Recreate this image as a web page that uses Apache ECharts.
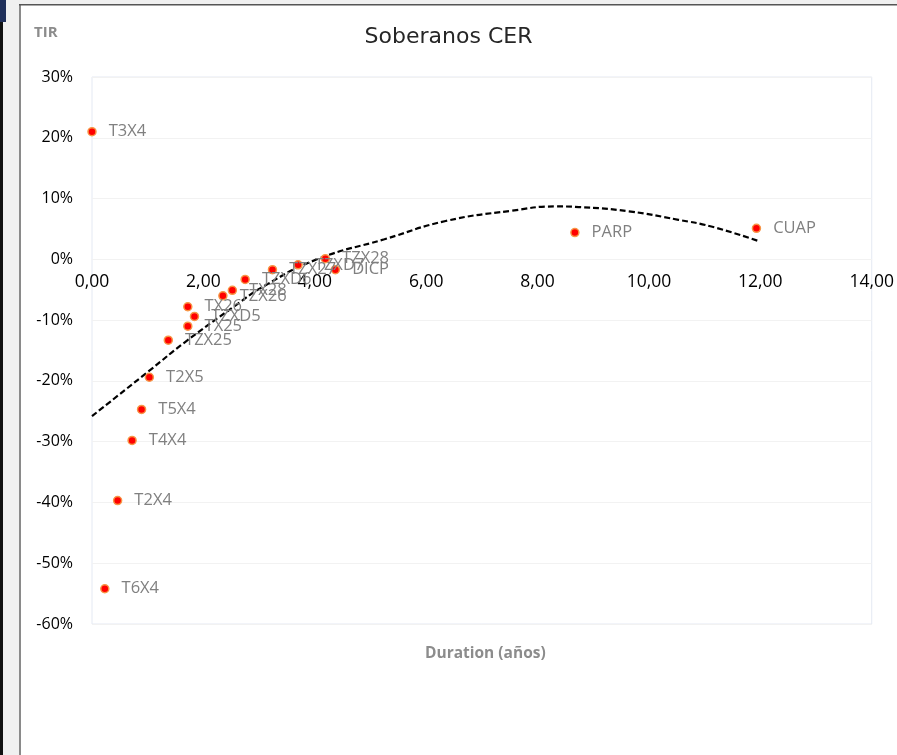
<!DOCTYPE html>
<html>
<head>
<meta charset="utf-8">
<script src="https://cdn.jsdelivr.net/npm/echarts@6/dist/echarts.min.js"></script>
<style>
  html, body { margin: 0; padding: 0; background: #ffffff; }
  #chart { width: 897px; height: 755px; }
</style>
</head>
<body>
<div id="chart"></div>
<script>
// Bond tickers
const names = ['T3X4', 'T6X4', 'T2X4', 'T4X4', 'T5X4', 'T2X5', 'TZX25', 'TX25', 'TZXD5', 'TX26',
               'TZX26', 'TX28', 'TZXD6', 'TZX27', 'TZXD7', 'TZX28', 'DICP', 'PARP', 'CUAP'];
// Duration (years)
const duration = [0.00, 0.23, 0.46, 0.72, 0.89, 1.03, 1.37, 1.72, 1.84, 1.72,
                  2.35, 2.52, 2.75, 3.24, 3.70, 4.19, 4.37, 8.67, 11.93];
// TIR (%)
const tir = [21.0, -54.2, -39.7, -29.8, -24.7, -19.4, -13.3, -11.0, -9.4, -7.8,
             -6.0, -5.1, -3.3, -1.7, -0.9, 0.1, -1.7, 4.4, 5.1];
// Trend line
const trendX = [0.00, 1.06, 1.66, 2.56, 3.09, 4.04, 5.25, 6.35, 7.54, 8.32, 8.74, 9.64, 10.53, 11.12, 11.97];
const trendY = [-25.8, -18.1, -13.7, -7.7, -4.4, 0.0, 3.3, 6.3, 8.0, 8.7, 8.6, 7.9, 6.5, 5.4, 3.0];
// Axis ticks
const xTicks = { min: 0, max: 14, interval: 2 };
const yTicks = { min: -60, max: 30, interval: 10 };

const W = 897, H = 755;
const gridBox = { left: 92, right: 24, top: 77, bottom: 131 };
const gridH = H - gridBox.top - gridBox.bottom;
// place the x axis on the 0% line
const xAxisOffset = -gridH * (0 - yTicks.min) / (yTicks.max - yTicks.min);

const chart = echarts.init(document.getElementById('chart'));
const font = '"Open Sans", "Noto Sans", sans-serif';

const option = {
  backgroundColor: '#ffffff',
  animation: false,
  title: [
    { text: 'Soberanos CER', left: 'center', top: 21,
      textStyle: { fontFamily: '"DejaVu Sans", sans-serif', fontSize: 22, fontWeight: 'normal', color: '#262626' } },
    { text: 'TIR', left: 29, top: 20,
      textStyle: { fontFamily: font, fontSize: 15, fontWeight: 'bold', color: '#8c8c8c' } },
    { text: 'Duration (años)', left: 420, top: 641,
      textStyle: { fontFamily: font, fontSize: 15.5, fontWeight: 'bold', color: '#8c8c8c' } }
  ],
  graphic: [
    { type: 'rect', shape: { x: 0, y: 0, width: 20, height: 755 }, style: { fill: '#f0f0f0' }, z: 100 },
    { type: 'rect', shape: { x: 0, y: 0, width: 897, height: 4 }, style: { fill: '#f0f0f0' }, z: 100 },
    { type: 'rect', shape: { x: 0, y: 0, width: 3, height: 755 }, style: { fill: '#111111' }, z: 101 },
    { type: 'rect', shape: { x: 0, y: 0, width: 6, height: 22 }, style: { fill: '#1f2f5a' }, z: 101 },
    { type: 'rect', shape: { x: 19, y: 4, width: 2, height: 751 }, style: { fill: '#8a8a8a' }, z: 101 },
    { type: 'rect', shape: { x: 19, y: 4, width: 878, height: 1.5 }, style: { fill: '#555555' }, z: 101 }
  ],
  grid: Object.assign({ show: true, borderColor: '#e4e9f3', borderWidth: 1 }, gridBox),
  xAxis: {
    type: 'value',
    position: 'bottom',
    offset: xAxisOffset,
    min: xTicks.min, max: xTicks.max, interval: xTicks.interval,
    axisLine: { show: true, onZero: false, lineStyle: { color: '#f2f2f2', width: 1 } },
    axisTick: { show: false },
    splitLine: { show: false },
    axisLabel: {
      fontFamily: font, fontSize: 17.5, color: '#000000', margin: 14,
      formatter: v => v.toFixed(2).replace('.', ',')
    }
  },
  yAxis: {
    type: 'value',
    min: yTicks.min, max: yTicks.max, interval: yTicks.interval,
    axisLine: { show: false, onZero: false },
    axisTick: { show: false },
    splitLine: { show: true, lineStyle: { color: '#f2f2f2', width: 1 } },
    axisLabel: {
      fontFamily: font, fontSize: 16, color: '#000000', margin: 19,
      formatter: v => v + '%'
    }
  },
  series: [
    {
      type: 'line',
      data: trendX.map((x, i) => [x, trendY[i]]),
      smooth: true,
      showSymbol: false,
      symbol: 'none',
      lineStyle: { color: '#000000', width: 2.2, type: [6, 3] },
      z: 2,
      silent: true
    },
    {
      type: 'scatter',
      data: names.map((n, i) => ({ name: n, value: [duration[i], tir[i]] })),
      symbolSize: 8,
      itemStyle: { color: '#ff0000', borderColor: '#f79646', borderWidth: 1.5, opacity: 1 },
      label: {
        show: true, position: 'right', distance: 12,
        formatter: p => p.name,
        fontFamily: font, fontSize: 16.5, color: '#808080'
      },
      z: 5
    }
  ]
};
chart.setOption(option);
</script>
</body>
</html>
